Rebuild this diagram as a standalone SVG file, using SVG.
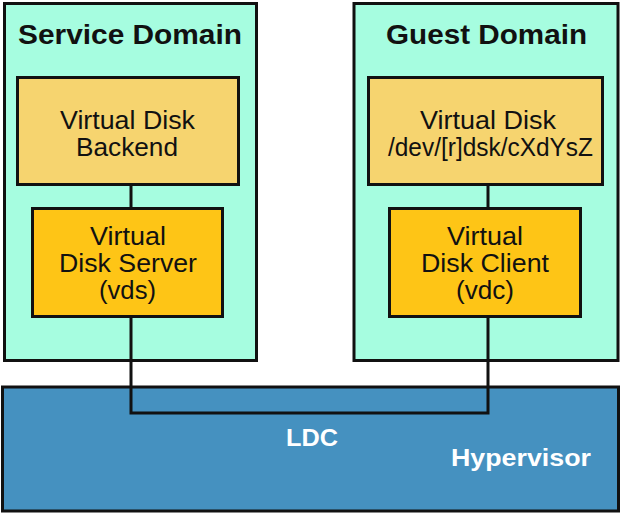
<svg xmlns="http://www.w3.org/2000/svg" width="621" height="513" viewBox="0 0 621 513">
<style>
.dom{fill:#a6fde0;stroke:#111;stroke-width:3}
.be{fill:#f6d46f;stroke:#111;stroke-width:3}
.sv{fill:#fec516;stroke:#111;stroke-width:3}
.hv{fill:#4591c0;stroke:#111;stroke-width:3}
.t{font-family:"Liberation Sans",Arial,sans-serif;font-size:25.5px;fill:#111;text-anchor:middle}
.h{font-family:"Liberation Sans",Arial,sans-serif;font-size:28.5px;font-weight:bold;fill:#111;text-anchor:middle}
.w{font-family:"Liberation Sans",Arial,sans-serif;font-size:24.5px;font-weight:bold;fill:#fff;text-anchor:middle}
.c{fill:none;stroke:#111;stroke-width:3}
</style>
<g id="service-domain">
<rect class="dom" x="4.5" y="3.5" width="252" height="357"/>
<text class="h" x="130" y="44" textLength="224" lengthAdjust="spacingAndGlyphs">Service Domain</text>
</g>
<g id="guest-domain">
<rect class="dom" x="354" y="3.5" width="264" height="357"/>
<text class="h" x="486.5" y="44" textLength="201" lengthAdjust="spacingAndGlyphs">Guest Domain</text>
</g>
<g id="hypervisor">
<rect class="hv" x="2.5" y="387" width="616" height="124"/>
<text class="w" x="521" y="466" textLength="140" lengthAdjust="spacingAndGlyphs">Hypervisor</text>
</g>
<g id="ldc">
<text class="w" x="312" y="446" textLength="52" lengthAdjust="spacingAndGlyphs">LDC</text>
</g>
<g id="backend">
<rect class="be" x="17.5" y="77.5" width="221" height="107"/>
<text class="t" x="127.5" y="129" textLength="135" lengthAdjust="spacingAndGlyphs">Virtual Disk</text>
<text class="t" x="127" y="156" textLength="102" lengthAdjust="spacingAndGlyphs">Backend</text>
</g>
<g id="vdisk">
<rect class="be" x="368.5" y="77.5" width="234" height="107"/>
<text class="t" x="488" y="129" textLength="136" lengthAdjust="spacingAndGlyphs">Virtual Disk</text>
<text class="t" x="490.5" y="156" textLength="205" lengthAdjust="spacingAndGlyphs">/dev/[r]dsk/cXdYsZ</text>
</g>
<g id="vds">
<rect class="sv" x="32.5" y="208.5" width="190" height="108"/>
<text class="t" x="128" y="245" textLength="76" lengthAdjust="spacingAndGlyphs">Virtual</text>
<text class="t" x="128" y="272" textLength="138" lengthAdjust="spacingAndGlyphs">Disk Server</text>
<text class="t" x="127.5" y="299" textLength="57" lengthAdjust="spacingAndGlyphs">(vds)</text>
</g>
<g id="vdc">
<rect class="sv" x="389.5" y="208.5" width="191" height="108"/>
<text class="t" x="485" y="245" textLength="76" lengthAdjust="spacingAndGlyphs">Virtual</text>
<text class="t" x="485" y="272" textLength="128" lengthAdjust="spacingAndGlyphs">Disk Client</text>
<text class="t" x="485" y="299" textLength="58" lengthAdjust="spacingAndGlyphs">(vdc)</text>
</g>
<g id="connectors">
<path class="c" d="M131,184 V208"/>
<path class="c" d="M488,184 V208"/>
<path class="c" d="M131,317 V413 H488 V317"/>
</g>
</svg>
